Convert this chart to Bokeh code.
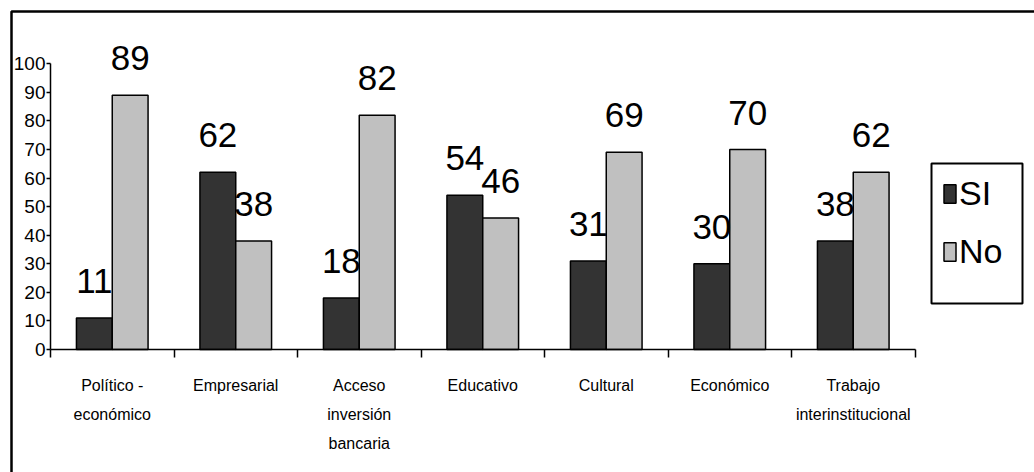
from bokeh.plotting import figure
from bokeh.models import (ColumnDataSource, Range1d, LinearAxis, FixedTicker,
                          Legend, LegendItem, BoxAnnotation)
from bokeh.core.properties import value
from bokeh.embed import file_html
from bokeh.resources import INLINE

# Data
categories = ["Político -\neconómico", "Empresarial", "Acceso\ninversión\nbancaria",
              "Educativo", "Cultural", "Económico", "Trabajo\ninterinstitucional"]
si_values = [11, 62, 18, 54, 31, 30, 38]
no_values = [89, 38, 82, 46, 69, 70, 62]
y_ticks = [0, 10, 20, 30, 40, 50, 60, 70, 80, 90, 100]

FONT = "Liberation Sans"
DARK = "#333333"
LIGHT = "#c0c0c0"

n = len(categories)
centers = [i + 0.5 for i in range(n)]
bar_w = 0.29

src = ColumnDataSource(dict(
    x_si=[c - bar_w / 2 for c in centers],
    x_no=[c + bar_w / 2 for c in centers],
    si=si_values,
    no=no_values,
    si_txt=[str(v) for v in si_values],
    no_txt=[str(v) for v in no_values],
))

# ranges chosen so the category axis starts at x=50 px and 0..100 spans 349..63 px
px_cat = 123.5
px_unit = 2.857
W, H = 1034, 472
x0_px, y0_px = 50, 349

p = figure(width=W, height=H, output_backend="svg", toolbar_location=None,
           x_range=Range1d(-x0_px / px_cat, (W - x0_px) / px_cat),
           y_range=Range1d(-(H - y0_px) / px_unit, y0_px / px_unit),
           x_axis_type=None, y_axis_type=None, min_border=0,
           min_border_left=0, min_border_right=0, min_border_top=0, min_border_bottom=0)
p.outline_line_color = None
p.background_fill_color = "white"
p.border_fill_color = "white"

r_si = p.vbar(x="x_si", top="si", bottom=0, width=bar_w, source=src,
              fill_color=DARK, line_color="black", line_width=1.5)
r_no = p.vbar(x="x_no", top="no", bottom=0, width=bar_w, source=src,
              fill_color=LIGHT, line_color="black", line_width=1.5)

for xcol, ycol, tcol in (("x_si", "si", "si_txt"), ("x_no", "no", "no_txt")):
    p.text(x=xcol, y=ycol, text=tcol, source=src, text_align="center",
           text_baseline="alphabetic", y_offset=-37,
           text_font=value(FONT), text_font_size=value("35px"), text_color="black")

# value axis
yax = LinearAxis(fixed_location=0, bounds=(0, 100),
                 ticker=FixedTicker(ticks=y_ticks, minor_ticks=[]))
yax.axis_line_color = "black"
yax.axis_line_width = 1.5
yax.major_tick_out = 4
yax.major_tick_in = 0
yax.minor_tick_out = 0
yax.major_tick_line_width = 1.5
yax.major_label_standoff = 1
yax.major_label_text_font = FONT
yax.major_label_text_font_size = "19px"
yax.major_label_text_color = "black"
p.add_layout(yax, "left")

# category axis: tick marks between categories, labels at centres
xax = LinearAxis(fixed_location=0, bounds=(0, n),
                 ticker=FixedTicker(ticks=centers, minor_ticks=list(range(n + 1))))
xax.axis_line_color = "black"
xax.axis_line_width = 1.5
xax.major_tick_out = 0
xax.major_tick_in = 0
xax.minor_tick_out = 8
xax.minor_tick_in = 0
xax.minor_tick_line_color = "black"
xax.minor_tick_line_width = 1.5
xax.major_label_overrides = {c: lab for c, lab in zip(centers, categories)}
xax.major_label_standoff = 19
xax.major_label_text_font = FONT
xax.major_label_text_font_size = "16px"
xax.major_label_text_line_height = 1.72
xax.major_label_text_color = "black"
p.add_layout(xax, "below")

# chart border and legend box
p.add_layout(BoxAnnotation(left=11, right=W + 20, top=11, bottom=H + 20,
                           left_units="canvas", right_units="canvas",
                           top_units="canvas", bottom_units="canvas",
                           fill_color=None, fill_alpha=0,
                           line_color="black", line_width=2.5, line_alpha=1))
p.add_layout(BoxAnnotation(left=931, right=1022, top=163, bottom=303,
                           left_units="canvas", right_units="canvas",
                           top_units="canvas", bottom_units="canvas",
                           fill_color=None, fill_alpha=0,
                           line_color="black", line_width=2, line_alpha=1))

legend = Legend(items=[LegendItem(label="SI", renderers=[r_si]),
                       LegendItem(label="No", renderers=[r_no])],
                location=(942, 201), orientation="vertical",
                padding=0, spacing=19, margin=0,
                glyph_width=15, glyph_height=23, label_standoff=2,
                label_text_font=FONT, label_text_font_size="34px",
                label_text_color="black",
                border_line_color=None, background_fill_alpha=0)
p.add_layout(legend)

open("out.html", "w").write(file_html(p, INLINE))
